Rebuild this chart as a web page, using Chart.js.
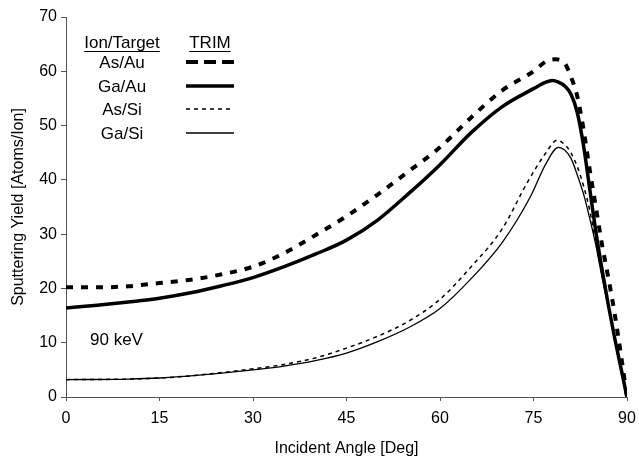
<!DOCTYPE html>
<html>
<head>
<meta charset="utf-8">
<script src="https://cdn.jsdelivr.net/npm/chart.js@4/dist/chart.umd.min.js"></script>
<style>
  html, body { margin: 0; padding: 0; background: #fff; }
  #wrap { width: 639px; height: 462px; }
</style>
</head>
<body>
<div id="wrap"><canvas id="c"></canvas></div>
<script>
// incident angle (deg) for each series
const angAsAu = [0, 5, 10, 15, 20, 25, 30, 35, 40, 45, 50, 55, 60, 65, 70, 75, 77, 78.5, 80, 81, 82, 83, 84, 85, 86, 87, 88, 89, 90];
const yAsAu   = [20.2, 20.2, 20.4, 21, 21.6, 22.6, 24, 26.5, 29.8, 33.3, 37.3, 41.6, 46, 51.5, 56.5, 60, 61.8, 62.2, 61.5, 59, 55.5, 49.5, 42, 35, 28, 22, 15.5, 8, 0];

const angGaAu = [0, 5, 10, 15, 20, 25, 30, 35, 40, 45, 50, 55, 60, 65, 70, 75, 77, 78, 79, 80, 81, 82, 83, 84, 85, 86, 87, 88, 89, 90];
const yGaAu   = [16.4, 16.9, 17.5, 18.2, 19.2, 20.5, 22, 24, 26.3, 28.9, 32.6, 37.5, 42.8, 48.7, 53.5, 56.8, 58, 58.3, 58, 57.3, 55.8, 52.5, 46.5, 38.5, 30.5, 23.5, 17, 11, 5.5, 0];

const angAsSi = [0, 10, 15, 20, 25, 30, 35, 40, 45, 50, 55, 60, 65, 70, 74, 77, 78.8, 80, 81, 82, 83, 84, 85, 86, 87, 88, 89, 90];
const yAsSi   = [3.2, 3.3, 3.5, 3.9, 4.5, 5.2, 6.0, 7.2, 9.0, 11.2, 14, 18, 24, 31, 39.5, 45, 47.3, 46.5, 45, 42.5, 39, 34.5, 28.5, 22.5, 17, 11, 5.5, 0];

const angGaSi = [0, 10, 15, 20, 25, 30, 35, 40, 45, 50, 55, 60, 65, 70, 74.5, 77, 79, 80, 81, 82, 83, 84, 85, 86, 87, 88, 89, 90];
const yGaSi   = [3.2, 3.3, 3.5, 3.9, 4.4, 5.0, 5.7, 6.7, 8.1, 10.2, 12.8, 16.3, 21.8, 28.5, 36.9, 43, 46, 45.5, 44, 41, 37.5, 33, 28, 22, 16.5, 11, 5.5, 0];

const seriesNames = ["As/Au", "Ga/Au", "As/Si", "Ga/Si"];
const xTicks = [0, 15, 30, 45, 60, 75, 90];

const FONT = "'Liberation Sans', Arial, sans-serif";

function pts(xs, ys) {
  return xs.map((x, i) => ({ x: x, y: ys[i] }));
}

const styles = [
  { borderWidth: 4, borderDash: [7, 8] },
  { borderWidth: 3.5, borderDash: [] },
  { borderWidth: 1.5, borderDash: [4, 4] },
  { borderWidth: 1.3, borderDash: [] },
];

const datasets = [
  pts(angAsAu, yAsAu),
  pts(angGaAu, yGaAu),
  pts(angAsSi, yAsSi),
  pts(angGaSi, yGaSi),
].map((d, i) => ({
  label: seriesNames[i],
  data: d,
  borderColor: "#000",
  backgroundColor: "#000",
  borderWidth: styles[i].borderWidth,
  borderDash: styles[i].borderDash,
  pointRadius: 0,
  cubicInterpolationMode: "monotone",
  fill: false,
}));

// draws the legend with its underlined headers and the energy note
const notes = {
  id: "notes",
  afterDraw(chart) {
    const ctx = chart.ctx;
    ctx.save();
    ctx.fillStyle = "#000";
    ctx.strokeStyle = "#000";
    ctx.font = "17px " + FONT;
    ctx.textAlign = "center";
    ctx.textBaseline = "alphabetic";

    const heads = [["Ion/Target", 122], ["TRIM", 210]];
    heads.forEach(([t, x]) => {
      ctx.fillText(t, x, 48);
      const w = ctx.measureText(t).width;
      ctx.lineWidth = 1;
      ctx.setLineDash([]);
      ctx.beginPath();
      ctx.moveTo(x - w / 2, 51.5);
      ctx.lineTo(x + w / 2, 51.5);
      ctx.stroke();
    });

    const rowY = [62, 86, 109, 133];
    chart.data.datasets.forEach((ds, i) => {
      ctx.textBaseline = "middle";
      ctx.fillText(ds.label, 122, rowY[i] + 1);
      ctx.lineWidth = ds.borderWidth;
      ctx.setLineDash(i === 0 ? [12, 6] : ds.borderDash);
      ctx.beginPath();
      ctx.moveTo(186, rowY[i]);
      ctx.lineTo(234, rowY[i]);
      ctx.stroke();
    });

    ctx.setLineDash([]);
    ctx.textAlign = "left";
    ctx.fillText("90 keV", 90, 340);
    ctx.restore();
  },
};

new Chart(document.getElementById("c"), {
  type: "line",
  data: { datasets: datasets },
  options: {
    responsive: true,
    maintainAspectRatio: false,
    animation: false,
    layout: { padding: { top: 17, right: 12, left: 0, bottom: 0 } },
    plugins: {
      legend: { display: false },
      tooltip: { enabled: false },
    },
    scales: {
      x: {
        type: "linear",
        min: 0,
        max: 90,
        afterBuildTicks: (s) => { s.ticks = xTicks.map((v) => ({ value: v })); },
        afterFit: (s) => { s.height = 65; s.paddingLeft = 0; s.paddingRight = 0; },
        grid: { display: true, drawOnChartArea: false, color: "#555", tickLength: 4 },
        border: { color: "#555", width: 1 },
        ticks: { color: "#000", font: { family: FONT, size: 16 }, padding: 8, maxRotation: 0 },
        title: {
          display: true,
          text: "Incident Angle [Deg]",
          color: "#000",
          font: { family: FONT, size: 16 },
          padding: { top: 4 },
        },
      },
      y: {
        min: 0,
        max: 70,
        afterFit: (s) => { s.width = 66; },
        grid: { display: true, drawOnChartArea: false, color: "#555", tickLength: 5 },
        border: { color: "#555", width: 1 },
        ticks: { stepSize: 10, color: "#000", font: { family: FONT, size: 16 }, padding: 4 },
        title: {
          display: true,
          text: "Sputtering Yield [Atoms/Ion]",
          color: "#000",
          font: { family: FONT, size: 16 },
          padding: { top: 9 },
        },
      },
    },
  },
  plugins: [notes],
});
</script>
</body>
</html>
